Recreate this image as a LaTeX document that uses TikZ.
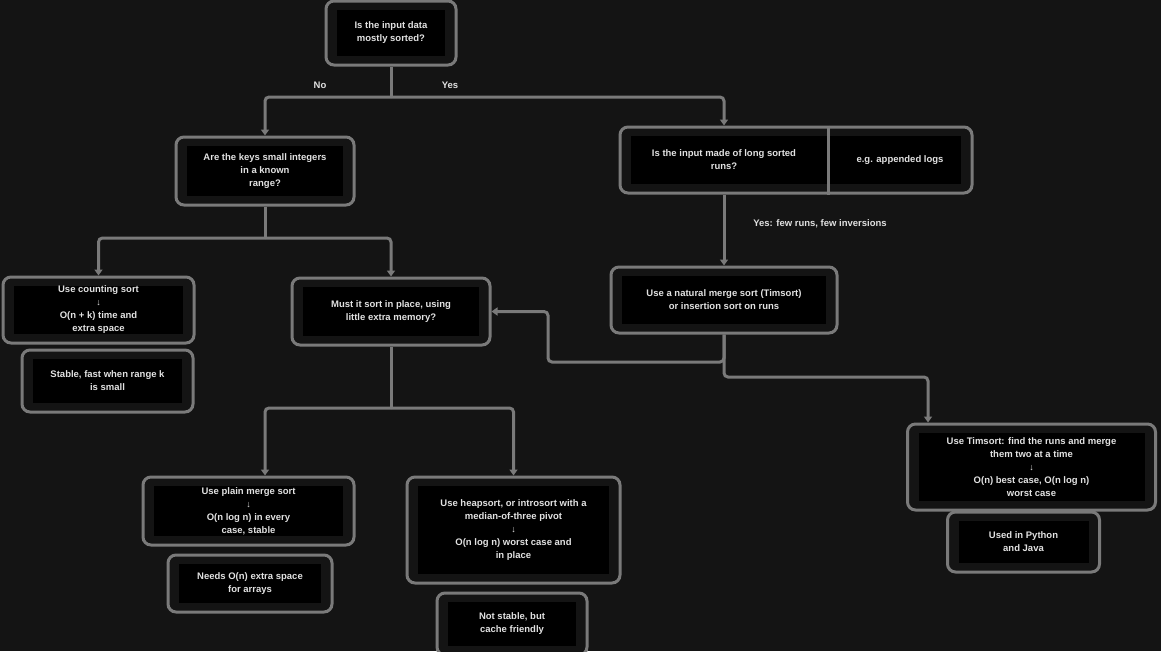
\documentclass[tikz,border=0pt]{standalone}
\usepackage{fontspec}
\setmainfont{Liberation Sans}
\usepackage{tikz}
\usetikzlibrary{
    calc,                   % Corner points of the connectors.
    arrows.meta,            % Triangle arrow tips.
    positioning             % Notes placed below their boxes.
}
\definecolor{bgdark}{HTML}{141414}
\definecolor{linegray}{HTML}{7A7A7A}
\definecolor{textgray}{HTML}{E2E2E2}

\tikzset{
    box/.style={draw=linegray, line width=3pt, rounded corners=8pt,
        fill=bgdark, text=textgray, align=center, inner sep=0pt,
        font=\fontsize{9.5}{13}\selectfont\bfseries,
        path picture={\fill[black, sharp corners]
            ($(path picture bounding box.south west)+(11pt,9pt)$) rectangle
            ($(path picture bounding box.north east)+(-11pt,-9pt)$);}},
    txt/.style={text=textgray, align=center, inner sep=0pt,
        font=\fontsize{9.5}{13}\selectfont\bfseries},
    lbl/.style={text=textgray, inner sep=1pt,
        font=\fontsize{9.5}{11}\selectfont\bfseries},
    link/.style={draw=linegray, line width=3pt, rounded corners=4pt},
    tip/.style={-{Triangle[width=8pt,length=6pt]}}
}
\newcommand{\down}{{\fontsize{9}{10}\selectfont ↓}}

\begin{document}
\begin{tikzpicture}[x=1pt, y=-1pt]
    \useasboundingbox (0,0) rectangle (1161,651);
    \fill[bgdark] (0,0) rectangle (1161,651);

    \node[box, minimum width=130pt, minimum height=64pt] (start) at (391,33)
        {Is the input data\\mostly sorted?};
    \node[lbl] (no) at (320,85) {No};
    \node[lbl] (yes) at (450,85) {Yes};

    \node[box, minimum width=178pt, minimum height=68pt] (keys) at (265,171)
        {Are the keys small integers\\in a known\\range?};
    \node[box, minimum width=352pt, minimum height=66pt] (runs) at (796,160) {};
    \node[txt] (runsq) at (724,160)
        {Is the input made of long sorted\\runs?};
    \node[txt] (runsnote) at (900,160) {e.g. appended logs};
    \coordinate (split) at (828,160);
    \node[lbl] (runslbl) at (820,224) {Yes: few runs, few inversions};

    \node[box, minimum width=226pt, minimum height=66pt] (natural) at (724,300)
        {Use a natural merge sort (Timsort)\\or insertion sort on runs};

    \node[box, minimum width=191pt, minimum height=66pt] (count) at (98.5,310)
        {Use counting sort\\\down\\O(n + k) time and\\extra space};
    \node[box, minimum width=171pt, minimum height=62pt,
        below=4pt of count, xshift=9pt] (countnote)
        {Stable, fast when range k\\is small};

    \node[box, minimum width=198pt, minimum height=67pt] (inplace) at (391,311.5)
        {Must it sort in place, using\\little extra memory?};

    \node[box, minimum width=211pt, minimum height=68pt] (merge) at (248.5,511)
        {Use plain merge sort\\\down\\O(n log n) in every\\case, stable};
    \node[box, minimum width=164pt, minimum height=57pt,
        below=7pt of merge, xshift=1.5pt] (mergenote)
        {Needs O(n) extra space\\for arrays};

    \node[box, minimum width=213pt, minimum height=106pt] (quick) at (513.5,530)
        {Use heapsort, or introsort with a\\median-of-three pivot\\\down\\O(n log n) worst case and\\in place};
    \node[box, minimum width=150pt, minimum height=62pt,
        below=7pt of quick, xshift=-1.5pt] (quicknote)
        {Not stable, but\\cache friendly};

    \node[box, minimum width=248pt, minimum height=86pt] (timsort) at (1031.5,467)
        {Use Timsort: find the runs and merge\\them two at a time\\\down\\O(n) best case, O(n log n)\\worst case};
    \node[box, minimum width=152pt, minimum height=60pt,
        below=-1pt of timsort, xshift=-8pt] (timsortnote)
        {Used in Python\\and Java};

    % connectors
    \coordinate (fork) at (391,97);
    \coordinate (keysfork) at (265,238);
    \coordinate (inplacefork) at (391,408);
    \coordinate (back) at (548,362);
    \coordinate (onward) at (724,377);
    \draw[link] (split |- runs.north) -- (split |- runs.south);
    \draw[link] (start.south) -- (fork);
    \draw[link, tip] (fork) -| (keys.north);
    \draw[link, tip] (fork) -| (runsq |- runs.north);
    \draw[link, tip] (runsq |- runs.south) -- (natural.north);
    \draw[link] (keys.south) -- (keysfork);
    \draw[link, tip] (keysfork) -| (count.north);
    \draw[link, tip] (keysfork) -| (inplace.north);
    \draw[link, tip] (natural.south) |- (back) |- (inplace.east);
    \draw[link, tip] (natural.south) -- (onward)
        -| ($(timsort.north west)+(22,0)$);
    \draw[link] (inplace.south) -- (inplacefork);
    \draw[link, tip] (inplacefork) -| (merge.north -| keys.south);
    \draw[link, tip] (inplacefork) -| (quick.north);
\end{tikzpicture}
\end{document}
